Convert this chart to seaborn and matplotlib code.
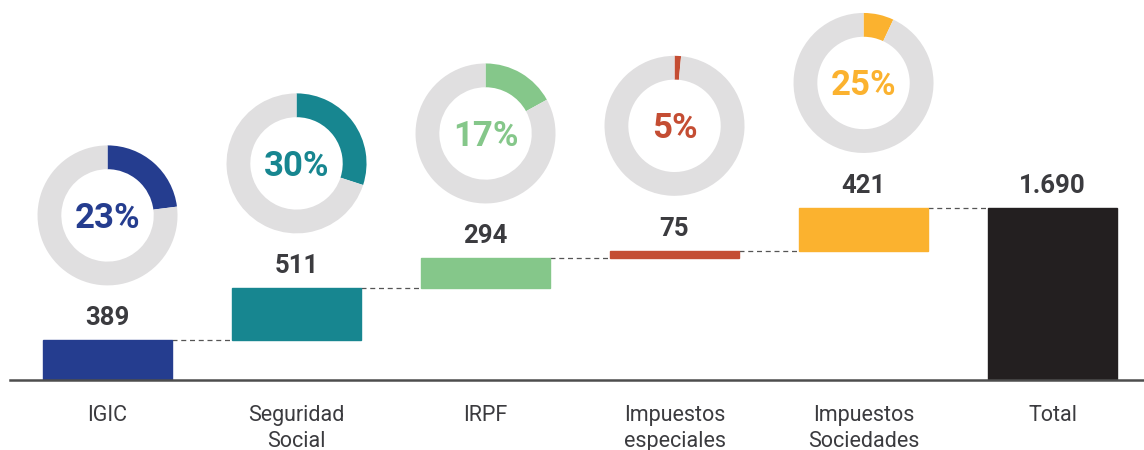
import matplotlib
matplotlib.use("Agg")
import matplotlib.pyplot as plt
import seaborn as sns

# Datos
categorias = ["IGIC", "Seguridad\nSocial", "IRPF", "Impuestos\nespeciales",
              "Impuestos\nSociedades", "Total"]
valores = [389, 511, 294, 75, 421]
porcentajes = ["23%", "30%", "17%", "5%", "25%"]
relleno_anillo = [0.23, 0.30, 0.17, 0.015, 0.07]  # parte coloreada de cada anillo
colores = ["#253D8F", "#178690", "#85C78A", "#C44D33", "#FBB22F", "#231F20"]

total = sum(valores)
alturas = valores + [total]
bases = []
acum = 0
for v in valores:
    bases.append(acum)
    acum += v
bases.append(0)
etiquetas = [f"{v:,}".replace(",", ".") for v in alturas]

sns.set_style("white")
plt.rcParams["font.family"] = ["Roboto", "DejaVu Sans"]
texto = "#3B3B3F"
gris = "#E0DFE0"

fig = plt.figure(figsize=(11.44, 4.5), dpi=100)
ax = fig.add_axes([10 / 1144, 70 / 450, 1134 / 1144, 380 / 450])

sns.barplot(x=categorias, y=alturas, bottom=bases, color=colores[0],
            width=0.68, ax=ax, zorder=2)
for p, c in zip(ax.patches, colores):
    p.set_facecolor(c)
    p.set_edgecolor(c)

ax.set_xlim(-0.516, 5.484)
ax.set_ylim(0, 3733)

# Conectores discontinuos
for i in range(len(alturas) - 1):
    y = bases[i] + alturas[i]
    ax.plot([i + 0.34, i + 1 - 0.34], [y, y], color="#555555", lw=0.9,
            dashes=(4, 3), zorder=1)

# Etiquetas de valor
for i, (b, h) in enumerate(zip(bases, alturas)):
    ax.annotate(etiquetas[i], (i, b + h), xytext=(0, 11), textcoords="offset points",
                ha="center", va="baseline", fontsize=18.5, fontweight="bold",
                color=texto)

# Anillos
sx = ax.bbox.width / 6.0
sy = ax.bbox.height / 3733
r_px = 70
for i in range(len(valores)):
    top = bases[i] + alturas[i]
    yc = top + 125 / sy
    w = 2 * r_px / sx
    h = 2 * r_px / sy
    axi = ax.inset_axes([i - w / 2, yc - h / 2, w, h], transform=ax.transData)
    f = relleno_anillo[i]
    axi.pie([f, 1 - f], colors=[colores[i], gris], startangle=90,
            counterclock=False, wedgeprops=dict(width=0.34, linewidth=0))
    axi.set_xlim(-1, 1)
    axi.set_ylim(-1, 1)
    axi.text(0, -0.175, porcentajes[i], ha="center", va="baseline",
             fontsize=25, fontweight="bold", color=colores[i])

# Ejes
for s in ["top", "left", "right"]:
    ax.spines[s].set_visible(False)
ax.spines["bottom"].set_color("#4D4D4D")
ax.spines["bottom"].set_linewidth(1.8)
ax.spines["bottom"].set_zorder(3)
ax.set_yticks([])
ax.set_ylabel("")
ax.tick_params(axis="x", length=0, pad=18, labelsize=15.5, labelcolor=texto)
for t in ax.get_xticklabels():
    t.set_linespacing(1.3)

fig.savefig("out.png", dpi=100)
